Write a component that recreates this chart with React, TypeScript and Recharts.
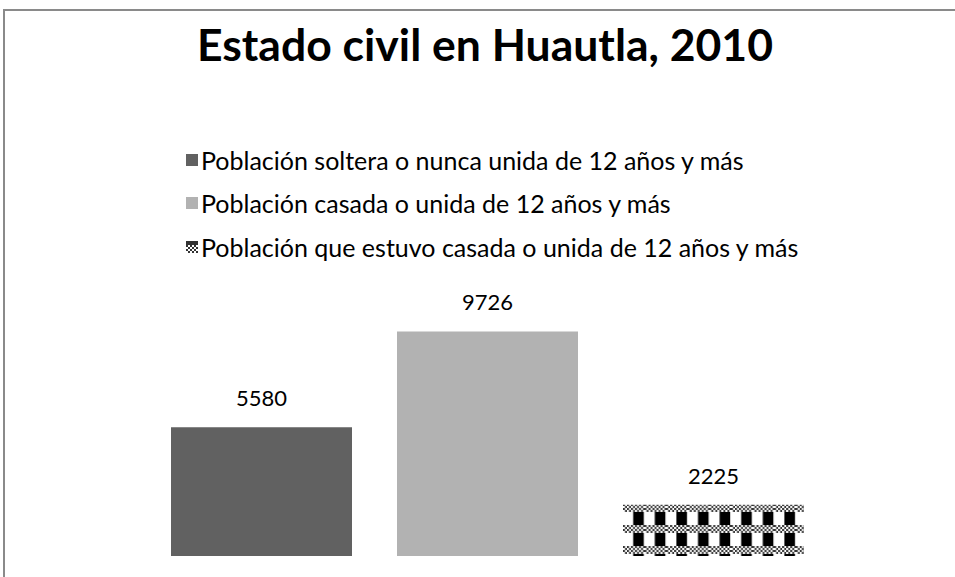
import React from 'react';
import { BarChart, Bar, XAxis, YAxis, Legend, LabelList } from 'recharts';

const seriesNames = [
  'Población soltera o nunca unida de 12 años y más',
  'Población casada o unida de 12 años y más',
  'Población que estuvo casada o unida de 12 años y más',
];
const seriesKeys = ['soltera', 'casada', 'estuvo'];
const seriesValues = [5580, 9726, 2225];
const category = ['Huautla'];

const fills = ['#616161', '#b2b2b2', 'url(#checkPat)'];
const FONT = 'Lato, "Open Sans", sans-serif';

const row: any = { name: category[0] };
seriesKeys.forEach((k, i) => {
  row[k] = seriesValues[i];
});
const data = [row];

const LegendBox = () => (
  <div style={{ fontFamily: FONT, fontSize: 25, color: '#000' }}>
    {seriesNames.map((n, i) => (
      <div key={n} style={{ display: 'flex', alignItems: 'center', height: 43.5 }}>
        <svg width={12} height={12} style={{ marginRight: 3 }}>
          <rect width={12} height={12} fill={i === 2 ? 'url(#legPat)' : fills[i]} />
        </svg>
        <span>{n}</span>
      </div>
    ))}
  </div>
);

const App: React.FC = () => {
  return (
    <div style={{ position: 'absolute', left: 0, top: 0, width: 955, height: 577, overflow: 'hidden', background: '#fff' }}>
      <div
        style={{
          position: 'absolute', left: 3, top: 9, width: 980, height: 600,
          borderTop: '2px solid #8a8a8a', borderLeft: '2px solid #8a8a8a',
        }}
      />
      <div
        style={{
          position: 'absolute', left: 0, width: 970, top: 17, textAlign: 'center',
          fontFamily: FONT, fontWeight: 'bold', fontSize: 44.5, color: '#000',
        }}
      >
        Estado civil en Huautla, 2010
      </div>
      <svg width={0} height={0} style={{ position: 'absolute' }}>
        <defs>
          <pattern id="fineChk" width={4} height={4} patternUnits="userSpaceOnUse">
            <rect width={4} height={4} fill="#fff" />
            <rect width={2} height={2} fill="#333" />
            <rect x={2} y={2} width={2} height={2} fill="#333" />
          </pattern>
          <pattern id="checkPat" x={623} y={504} width={21.6} height={21} patternUnits="userSpaceOnUse">
            <rect width={21.6} height={8} fill="url(#fineChk)" />
            <rect y={8} width={21.6} height={13} fill="#fff" />
            <rect x={10.2} y={8} width={10.6} height={13} fill="#000" />
          </pattern>
          <pattern id="legPat" width={12} height={12} patternUnits="userSpaceOnUse">
            <rect width={12} height={12} fill="url(#fineChk)" />
            <rect width={12} height={4} fill="#333" />
          </pattern>
        </defs>
      </svg>
      <div style={{ position: 'absolute', left: 0, top: 0 }}>
        <BarChart
          width={955}
          height={577}
          data={data}
          margin={{ top: 279, right: 128, left: 148, bottom: 21 }}
          barGap={45}
          barSize={181}
        >
          <XAxis dataKey="name" hide />
          <YAxis hide domain={[0, 12000]} />
          <Legend
            layout="vertical"
            align="center"
            verticalAlign="middle"
            content={<LegendBox />}
            wrapperStyle={{ top: 138, left: 186, width: 'auto' }}
          />
          {seriesKeys.map((k, i) => (
            <Bar key={k} dataKey={k} name={seriesNames[i]} fill={fills[i]} isAnimationActive={false}>
              <LabelList
                dataKey={k}
                position="top"
                offset={21}
                style={{ fontFamily: FONT, fontSize: 22, fill: '#000' }}
              />
            </Bar>
          ))}
        </BarChart>
      </div>
    </div>
  );
};

export default App;
